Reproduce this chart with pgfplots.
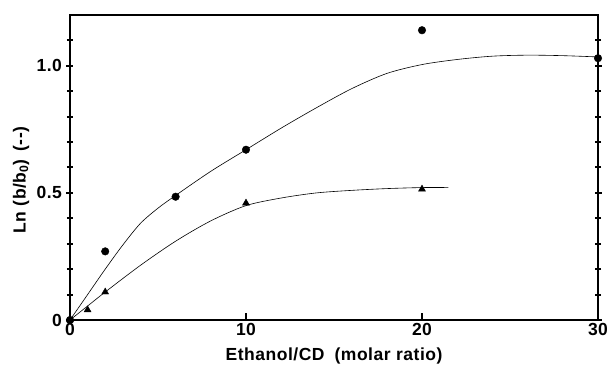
\documentclass[border=0pt]{standalone}
\usepackage{fontspec}
\setmainfont{Liberation Sans}
\newfontfamily\lblfont[LetterSpace=3]{Liberation Sans}
\usepackage{pgfplots}
\pgfplotsset{compat=1.18}
\begin{document}
\begin{tikzpicture}
\useasboundingbox (-70pt,-52pt) rectangle (541pt,320pt);
\begin{axis}[
  at={(0pt,0pt)}, anchor=origin,
  scale only axis, width=528pt, height=305pt,
  xmin=0, xmax=30, ymin=0, ymax=1.2,
  axis line style={line width=2.2pt},
  xtick={0,10,20,30}, xticklabels={0,10,20,30},
  ytick={0,0.5,1.0}, yticklabels={0,0.5,1.0},
  minor ytick={0.1,0.2,0.3,0.4,0.6,0.7,0.8,0.9,1.1},
  xtick pos=bottom, ytick pos=both,
  xtick align=inside, ytick align=center,
  major tick length=7pt, minor tick length=6pt,
  major tick style={line width=2pt, black},
  minor tick style={line width=2pt, black},
  /pgf/number format/assume math mode=true,
  ticklabel style={font=\lblfont\fontsize{17.5}{20}\selectfont\bfseries},
  yticklabel style={xshift=-1pt},
  clip=false,
]
\addplot[black, line width=0.6pt, smooth] coordinates {
(0,0) (1,0.1) (2,0.2) (3,0.295) (4,0.38) (5,0.44) (6,0.49) (8,0.585) (10,0.67)
(12,0.755) (14,0.835) (16,0.91) (18,0.97) (20,1.005) (22,1.025) (24,1.038) (26,1.042) (28,1.04) (30,1.035)};
\addplot[black, line width=0.6pt, smooth] coordinates {
(0,0) (1,0.055) (2,0.11) (4,0.215) (6,0.31) (8,0.39) (10,0.45) (12,0.48) (14,0.5) (16,0.51) (18,0.517) (20,0.521) (21.5,0.521)};
\addplot[only marks, mark=*, mark size=3.8pt, black] coordinates {
(0,0) (2,0.27) (6,0.485) (10,0.67) (20,1.14) (30,1.03)};
\addplot[only marks, mark=triangle*, mark size=4pt, black] coordinates {
(0,0) (1,0.04) (2,0.11) (10,0.46) (20,0.515)};
\end{axis}
\node[font=\lblfont\fontsize{17.5}{20}\selectfont\bfseries] at (264pt,-36pt) {Ethanol/CD\hspace{10pt}(molar ratio)};
\node[rotate=90, font=\lblfont\fontsize{17.5}{20}\selectfont\bfseries] at (-49pt,140pt) {Ln (b/b$_{\mathbf 0}$)\hspace{8pt}(--)};
\end{tikzpicture}
\end{document}
